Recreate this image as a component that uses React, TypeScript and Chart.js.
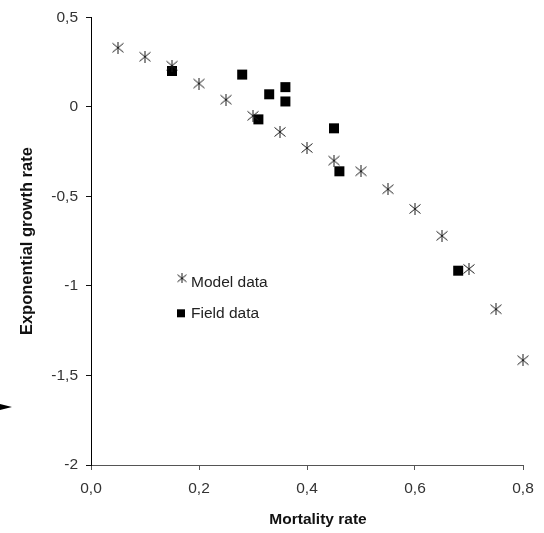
import { useEffect, useRef } from "react";
import { Chart, registerables } from "chart.js";

Chart.register(...registerables);

const modelX = [0.05, 0.1, 0.15, 0.2, 0.25, 0.3, 0.35, 0.4, 0.45, 0.5, 0.55, 0.6, 0.65, 0.7, 0.75, 0.8];
const modelY = [0.33, 0.28, 0.23, 0.13, 0.04, -0.05, -0.14, -0.23, -0.3, -0.36, -0.46, -0.57, -0.72, -0.905, -1.13, -1.415];
const fieldX = [0.15, 0.28, 0.31, 0.33, 0.36, 0.36, 0.45, 0.46, 0.68];
const fieldY = [0.2, 0.18, -0.07, 0.07, 0.11, 0.03, -0.12, -0.36, -0.915];

const xTickValues = [0, 0.2, 0.4, 0.6, 0.8];
const xTickLabels = ["0,0", "0,2", "0,4", "0,6", "0,8"];
const yTickValues = [-2, -1.5, -1, -0.5, 0, 0.5];
const yTickLabels = ["-2", "-1,5", "-1", "-0,5", "0", "0,5"];

const seriesNames = ["Model data", "Field data"];
const xTitle = "Mortality rate";
const yTitle = "Exponential growth rate";

const FONT = "'Liberation Sans', Arial, sans-serif";

function makeAsterisk(size: number, color: string): HTMLCanvasElement {
  const c = document.createElement("canvas");
  c.width = size;
  c.height = size;
  const ctx = c.getContext("2d")!;
  ctx.strokeStyle = color;
  ctx.lineWidth = 1;
  const m = size / 2;
  ctx.beginPath();
  ctx.moveTo(m, 0);
  ctx.lineTo(m, size);
  ctx.moveTo(0.5, 1.5);
  ctx.lineTo(size - 0.5, size - 1.5);
  ctx.moveTo(size - 0.5, 1.5);
  ctx.lineTo(0.5, size - 1.5);
  ctx.stroke();
  return c;
}

export default function App() {
  const ref = useRef<HTMLCanvasElement | null>(null);

  useEffect(() => {
    if (!ref.current) return;
    const star = makeAsterisk(12, "#1a1a1a");
    const starSmall = makeAsterisk(10, "#1a1a1a");

    const overlay = {
      id: "overlay",
      afterDraw(chart: any) {
        const { ctx, chartArea } = chart;
        const { left, top, right } = chartArea;
        ctx.save();
        // legend
        ctx.drawImage(starSmall, left + 91 - 5, top + 261 - 5);
        ctx.fillStyle = "#000";
        ctx.fillRect(left + 86, top + 292, 8, 8);
        ctx.fillStyle = "#222";
        ctx.font = `15.5px ${FONT}`;
        ctx.textAlign = "left";
        ctx.textBaseline = "middle";
        ctx.fillText(seriesNames[0], left + 100, top + 265);
        ctx.fillText(seriesNames[1], left + 100, top + 296);
        // x title
        ctx.fillStyle = "#111";
        ctx.font = `bold 15.5px ${FONT}`;
        ctx.textAlign = "center";
        ctx.fillText(xTitle, (left + right) / 2 + 11, 519.5);
        // stray arrow mark at left edge
        ctx.fillStyle = "#000";
        ctx.beginPath();
        ctx.moveTo(0, 404);
        ctx.lineTo(0, 410);
        ctx.lineTo(12, 407);
        ctx.closePath();
        ctx.fill();
        ctx.restore();
      },
    };

    const chart = new Chart(ref.current, {
      type: "scatter",
      data: {
        datasets: [
          {
            label: seriesNames[0],
            data: modelX.map((x, i) => ({ x, y: modelY[i] })),
            pointStyle: star as any,
            pointRadius: 6,
            clip: false as any,
          },
          {
            label: seriesNames[1],
            data: fieldX.map((x, i) => ({ x, y: fieldY[i] })),
            pointStyle: "rect",
            pointRadius: 7.07,
            backgroundColor: "#000",
            borderColor: "#000",
            borderWidth: 0,
            clip: false as any,
          },
        ],
      },
      options: {
        animation: false,
        responsive: false,
        layout: { padding: { left: 0, right: 21, top: 16, bottom: 0 } },
        plugins: {
          legend: { display: false },
          tooltip: { enabled: false },
        },
        scales: {
          x: {
            type: "linear",
            min: 0,
            max: 0.8,
            afterBuildTicks: (s: any) => {
              s.ticks = xTickValues.map((v) => ({ value: v }));
            },
            afterFit: (s: any) => {
              s.height = 68;
            },
            ticks: {
              color: "#333",
              font: { family: FONT, size: 15.5 },
              padding: 9,
              maxRotation: 0,
              callback: (_v: any, i: number) => xTickLabels[i],
            },
            grid: { drawOnChartArea: false, drawTicks: true, tickLength: 5, color: "#555" },
            border: { display: true, color: "#555", width: 1 },
          },
          y: {
            type: "linear",
            min: -2,
            max: 0.5,
            afterBuildTicks: (s: any) => {
              s.ticks = yTickValues.map((v) => ({ value: v }));
            },
            afterFit: (s: any) => {
              s.width = 91;
            },
            ticks: {
              color: "#333",
              font: { family: FONT, size: 15.5 },
              padding: 8,
              callback: (_v: any, i: number) => yTickLabels[i],
            },
            grid: { drawOnChartArea: false, drawTicks: true, tickLength: 5, color: "#111" },
            border: { display: true, color: "#000", width: 1 },
            title: {
              display: true,
              text: yTitle,
              color: "#111",
              font: { family: FONT, size: 16.5, weight: "bold" },
              padding: { top: 17.5, bottom: 0 },
            },
          },
        },
      },
      plugins: [overlay],
    });
    return () => chart.destroy();
  }, []);

  return (
    <div style={{ position: "fixed", left: 0, top: 0, width: 544, height: 533, background: "#fff" }}>
      <canvas ref={ref} width={544} height={533} style={{ display: "block" }} />
    </div>
  );
}
